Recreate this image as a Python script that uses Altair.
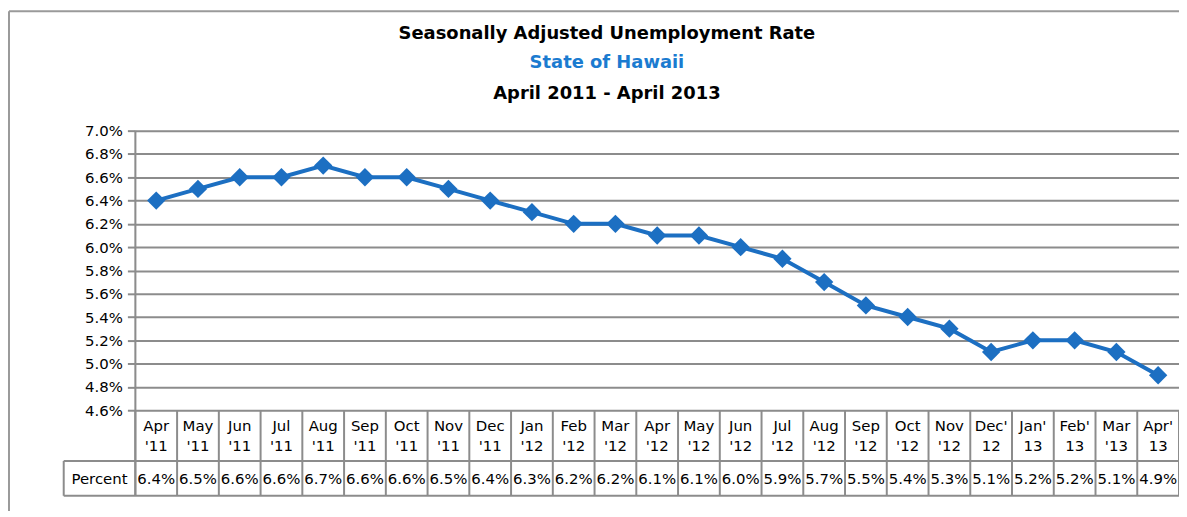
import altair as alt
import pandas as pd

# ---- data ----
month_line1 = ["Apr", "May", "Jun", "Jul", "Aug", "Sep", "Oct", "Nov", "Dec",
               "Jan", "Feb", "Mar", "Apr", "May", "Jun", "Jul", "Aug", "Sep",
               "Oct", "Nov", "Dec'", "Jan'", "Feb'", "Mar", "Apr'"]
month_line2 = ["'11", "'11", "'11", "'11", "'11", "'11", "'11", "'11", "'11",
               "'12", "'12", "'12", "'12", "'12", "'12", "'12", "'12", "'12",
               "'12", "'12", "12", "13", "13", "'13", "13"]
rates = [6.4, 6.5, 6.6, 6.6, 6.7, 6.6, 6.6, 6.5, 6.4, 6.3, 6.2, 6.2, 6.1,
         6.1, 6.0, 5.9, 5.7, 5.5, 5.4, 5.3, 5.1, 5.2, 5.2, 5.1, 4.9]
y_ticks = [4.6, 4.8, 5.0, 5.2, 5.4, 5.6, 5.8, 6.0, 6.2, 6.4, 6.6, 6.8, 7.0]

title_lines = ["Seasonally Adjusted Unemployment Rate", "State of Hawaii",
               "April 2011 - April 2013"]
row_label = "Percent"

keys = [f"{a}|{b}|{i}" for i, (a, b) in enumerate(zip(month_line1, month_line2))]
df = pd.DataFrame({
    "key": keys,
    "l1": month_line1,
    "l2": month_line2,
    "rate": rates,
    "txt": [f"{v:.1f}%" for v in rates],
})

W = 1049
H = 281
FONT = "Comic Sans MS, DejaVu Sans, sans-serif"
GRID = "#8c8c8c"
BLUE = "#1c6fc2"
FS = 15

xscale = alt.Scale(type="band", paddingInner=0, paddingOuter=0)
xband = alt.X("key:N", sort=keys, scale=xscale, axis=None)

yaxis = alt.Axis(values=y_ticks, title=None, labelOverlap=False,
                 labelExpr="format(datum.value, '.1f') + '%'",
                 labelFont=FONT, labelFontSize=FS, labelColor="#000",
                 labelPadding=5, tickSize=8, tickColor=GRID,
                 tickWidth=2, domain=False, grid=True,
                 gridColor=GRID, gridWidth=2)
yenc = alt.Y("rate:Q", scale=alt.Scale(domain=[4.6, 7.0], nice=False, zero=False),
             axis=yaxis)

base = alt.Chart(df)

line = base.mark_line(color=BLUE, strokeWidth=4).encode(x=xband, y=yenc)
pts = base.mark_point(shape="diamond", filled=True, color=BLUE, size=340,
                      opacity=1).encode(x=xband, y=yenc)

# category labels (two lines) and data-table values
lab1 = base.mark_text(font=FONT, fontSize=FS, color="#000").encode(
    x=xband, y=alt.value(H + 16), text="l1:N")
lab2 = base.mark_text(font=FONT, fontSize=FS, color="#000").encode(
    x=xband, y=alt.value(H + 36), text="l2:N")
vals = base.mark_text(font=FONT, fontSize=FS, color="#000").encode(
    x=xband, y=alt.value(H + 69), text="txt:N")

# table vertical separators at band starts
vsep = base.mark_rule(color=GRID, strokeWidth=2).encode(
    x=alt.X("key:N", sort=keys, bandPosition=0, scale=xscale, axis=None),
    y=alt.value(H), y2=alt.value(H + 86))

one = alt.Chart(pd.DataFrame({"a": [0]}))


def rule(x, x2, y, y2, color=GRID, w=2):
    return one.mark_rule(color=color, strokeWidth=w).encode(
        x=alt.value(x), x2=alt.value(x2), y=alt.value(y), y2=alt.value(y2))


frame = [
    rule(0, 0, 0, H + 86),              # y axis line extended into table
    rule(W, W, H, H + 86),              # right edge of table
    rule(-72, W, H + 51, H + 51),       # top of data row
    rule(-72, W, H + 86, H + 86),       # table bottom
    rule(-72, -72, H + 51, H + 86),     # left edge of "Percent" cell
    rule(-127, W, -120, -120, "#9a9a9a", 2),        # outer frame top
    rule(-127, -127, -120, H + 240, "#9a9a9a", 2),  # outer frame left
]

percent = one.mark_text(font=FONT, fontSize=FS, color="#000").encode(
    x=alt.value(-36), y=alt.value(H + 69), text=alt.value(row_label))

t1 = one.mark_text(font=FONT, fontSize=18, fontWeight="bold", color="#000").encode(
    x=alt.value(474), y=alt.value(-97), text=alt.value(title_lines[0]))
t2 = one.mark_text(font=FONT, fontSize=18, fontWeight="bold", color="#1b7bd0").encode(
    x=alt.value(474), y=alt.value(-68), text=alt.value(title_lines[1]))
t3 = one.mark_text(font=FONT, fontSize=18, fontWeight="bold", color="#000").encode(
    x=alt.value(474), y=alt.value(-37), text=alt.value(title_lines[2]))

chart = alt.layer(
    line, *frame, vsep, pts, lab1, lab2, vals, percent, t1, t2, t3
).properties(
    width=W, height=H,
    autosize=alt.AutoSizeParams(type="none"),
    padding={"left": 128, "top": 122, "right": 0, "bottom": 100},
).configure_view(stroke=None).configure(background="white")

chart.save("out.html", embed_options={"renderer": "svg", "actions": False})
